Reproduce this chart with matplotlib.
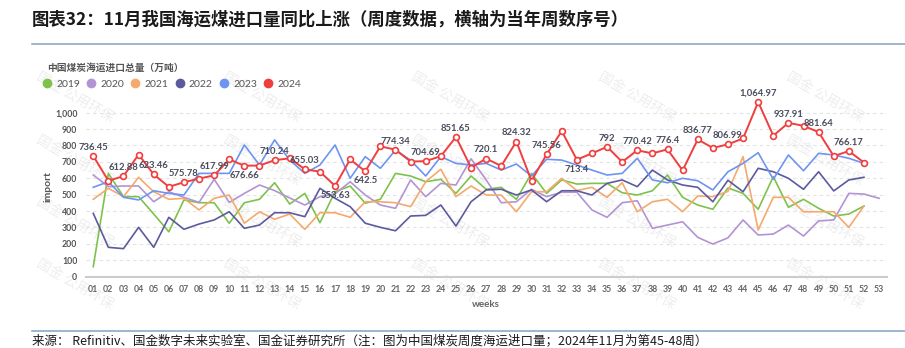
import matplotlib.pyplot as plt
from matplotlib.lines import Line2D
import numpy as np

plt.rcParams['font.family'] = ['Lato', 'Noto Sans CJK SC', 'DejaVu Sans']
plt.rcParams['axes.unicode_minus'] = False

# semanas
weeks = list(range(1, 54))
week_labels = [f'{w:02d}' for w in weeks]

# importacao semanal (10k t)
y2019 = [61, 630, 488, 488, 382, 274, 468, 451, 451, 326, 451, 472, 573, 443, 508, 329,
         518, 553, 448, 472, 630, 614, 579, 594, 508, 614, 533, 545, 472, 630, 508, 590,
         565, 569, 569, 512, 498, 524, 620, 484, 437, 411, 541, 508, 411, 610, 423, 472,
         417, 370, 382, 431]
y2020 = [620, 549, 553, 553, 457, 518, 484, 453, 594, 453, 508, 559, 525, 480, 437, 488,
         505, 579, 498, 437, 417, 590, 488, 569, 559, 719, 590, 451, 457, 533, 488, 515,
         515, 407, 362, 451, 463, 295, 315, 335, 240, 199, 237, 346, 254, 260, 315, 248,
         340, 346, 508, 504, 478]
y2021 = [472, 539, 488, 606, 518, 472, 478, 407, 478, 498, 326, 396, 350, 382, 289, 390,
         390, 362, 457, 457, 451, 427, 579, 655, 488, 553, 498, 498, 396, 518, 518, 600,
         525, 545, 484, 573, 396, 457, 472, 396, 492, 488, 520, 732, 285, 484, 484, 396,
         396, 396, 301, 431]
y2022 = [386, 179, 171, 301, 179, 362, 289, 321, 346, 396, 295, 315, 390, 390, 366, 539,
         478, 427, 326, 301, 280, 370, 374, 437, 309, 457, 529, 533, 498, 529, 457, 524,
         524, 498, 569, 590, 549, 650, 590, 559, 545, 457, 588, 518, 661, 640, 600, 533,
         640, 523, 590, 606]
y2023 = [545, 579, 484, 468, 524, 508, 498, 630, 630, 630, 803, 681, 834, 711, 630, 681,
         803, 600, 732, 661, 772, 710, 614, 732, 691, 681, 691, 650, 687, 614, 716, 711,
         681, 650, 620, 630, 722, 590, 573, 600, 585, 529, 640, 691, 756, 594, 742, 646,
         752, 742, 722, 691]
y2024 = [736.45, 585, 612.88, 745, 623.46, 548, 575.78, 598, 617.99, 715, 676.66, 678,
         710.24, 722, 655.03, 640, 553.63, 715, 642.5, 795, 774.34, 702, 704.69, 735,
         851.65, 665, 720.1, 675, 824.32, 585, 745.56, 888, 713.4, 752, 792, 700, 770.42,
         752, 776.4, 648, 836.77, 785, 806.99, 843, 1064.97, 860, 937.91, 920, 881.64,
         735, 766.17, 696]

anos = ['2019', '2020', '2021', '2022', '2023', '2024']
series = [y2019, y2020, y2021, y2022, y2023, y2024]
cores = ['#7dc24b', '#b294d4', '#f5a96c', '#5c5a9e', '#6e94f2', '#f03e3e']

# rotulos abaixo do ponto
abaixo = [11, 17, 19, 33]

fig = plt.figure(figsize=(9.05, 3.48), dpi=100)
ax = fig.add_axes([0.0947, 0.2049, 0.885, 0.5184])
ax.set_facecolor('none')

for ano, ys, cor in zip(anos, series, cores):
    xs = weeks[:len(ys)]
    if ano == '2024':
        ax.plot(xs, ys, color=cor, lw=1.4, marker='o', markersize=4.2,
                markerfacecolor='white', markeredgecolor=cor, markeredgewidth=1.2, zorder=5)
    else:
        ax.plot(xs, ys, color=cor, lw=1.2, zorder=3)

def fmt(v):
    s = f'{v:,.2f}'.rstrip('0').rstrip('.')
    return s

for w, v in zip(weeks, y2024):
    if w % 2 == 1:
        if w in abaixo:
            ax.annotate(fmt(v), (w, v), xytext=(0, -3.5), textcoords='offset points',
                        ha='center', va='top', fontsize=6.8, fontweight='bold', color='#4a4d5e', zorder=6)
        else:
            ax.annotate(fmt(v), (w, v), xytext=(0, 3), textcoords='offset points',
                        ha='center', va='bottom', fontsize=6.8, fontweight='bold', color='#4a4d5e', zorder=6)

ax.set_xlim(0.5, 53.5)
ax.set_ylim(0, 1100)
ax.set_xticks(weeks)
ax.set_xticklabels(week_labels, fontsize=6.3, color='#666666', fontweight='bold')
yt = list(range(0, 1001, 100))
ax.set_yticks(yt)
ax.set_yticklabels([f'{v:,}' for v in yt], fontsize=6.3, color='#555555', fontweight='bold')
ax.tick_params(axis='both', length=0)
ax.tick_params(axis='x', pad=6)
ax.tick_params(axis='y', pad=6)
for v in yt[1:]:
    ax.axhline(v, color='#e3e3e3', lw=0.8, ls=(0, (3, 3)), zorder=1)
for s in ['top', 'right', 'left']:
    ax.spines[s].set_visible(False)
ax.spines['bottom'].set_color('#cccccc')
ax.spines['bottom'].set_linewidth(1.5)
ax.set_xlabel('weeks', fontsize=7, color='#666666', fontweight='bold', labelpad=4)
ax.set_ylabel('import', fontsize=7.5, color='#555555', fontweight='bold', labelpad=2)

# titulo e linhas
fig.text(32 / 905, 1 - 20 / 348, '图表32：11月我国海运煤进口量同比上涨（周度数据，横轴为当年周数序号）',
         fontsize=12.5, fontweight='bold', style='italic', color='#1a1a1a', va='center', ha='left',
         family=['Noto Sans CJK SC', 'DejaVu Sans'])
fig.add_artist(Line2D([32 / 905, 1], [1 - 44 / 348, 1 - 44 / 348], color='#8ea9c8', lw=1.2))
fig.add_artist(Line2D([32 / 905, 1], [1 - 331 / 348, 1 - 331 / 348], color='#8ea9c8', lw=1.2))
fig.text(32 / 905, 1 - 341 / 348,
         '来源： Refinitiv、国金数字未来实验室、国金证券研究所（注：图为中国煤炭周度海运进口量；2024年11月为第45-48周）',
         fontsize=9, color='#1a1a1a', va='center', ha='left', family=['Noto Sans CJK SC', 'DejaVu Sans'])

fig.text(47 / 905, 1 - 68 / 348, '中国煤炭海运进口总量（万吨）', fontsize=7, fontweight='bold',
         color='#555555', va='center', ha='left', family=['Noto Sans CJK SC', 'DejaVu Sans'])

handles = [Line2D([], [], marker='o', ls='', color=c, markersize=6) for c in cores]
fig.legend(handles, anos, loc='center left', bbox_to_anchor=(43 / 905, 1 - 84 / 348), ncol=6,
           frameon=False, handlelength=0.8, handletextpad=0.5, columnspacing=0.65,
           prop={'size': 7.5}, labelcolor='#555555', borderpad=0, borderaxespad=0)

# marca d'agua (atras do grafico)
for cx in [75, 262, 450, 637, 825]:
    for cy in [97, 160, 222, 284]:
        fig.text(cx / 905, 1 - cy / 348, '国金 公用环保', fontsize=10, color='#eeeeee',
                 rotation=-30, ha='center', va='center', zorder=-5,
                 family=['Noto Sans CJK SC', 'DejaVu Sans'])

fig.savefig('out.png', dpi=100)
